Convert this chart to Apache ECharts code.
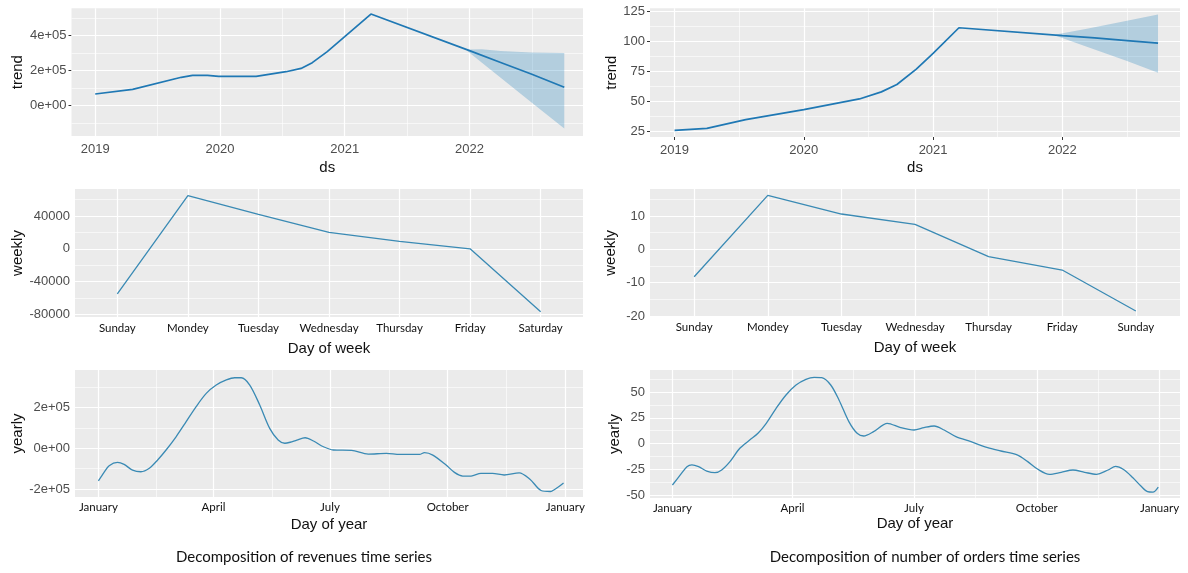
<!DOCTYPE html>
<html>
<head>
<meta charset="utf-8">
<script src="https://cdn.jsdelivr.net/npm/echarts@6/dist/echarts.min.js"></script>
<style>
html,body{margin:0;padding:0;background:#fff;}
#chart{width:1188px;height:573px;}
</style>
</head>
<body>
<div id="chart"></div>
<script>
// ---------- DATA ----------
// Revenues: trend
const trendYearsRev = [2019.0, 2019.3, 2019.69, 2019.78, 2019.9, 2019.99, 2020.29, 2020.53, 2020.65, 2020.74, 2020.86, 2021.0, 2021.21, 2022.0, 2022.25, 2022.5, 2022.76];
const trendRev = [65000, 92000, 161000, 172000, 172000, 166000, 166000, 193000, 212000, 245000, 308000, 394000, 524000, 314000, 246000, 178000, 104000];
const bandYearsRev = [2021.98, 2022.1, 2022.25, 2022.5, 2022.76];
const bandRevUpper = [320000, 322000, 312000, 303000, 300000];
const bandRevLower = [314000, 245000, 159000, 15000, -133000];

// Orders: trend
const trendYearsOrd = [2019.0, 2019.25, 2019.55, 2020.0, 2020.43, 2020.6, 2020.72, 2020.87, 2021.0, 2021.2, 2022.0, 2022.25, 2022.5, 2022.74];
const trendOrd = [25.5, 27.2, 34.5, 42.8, 51.7, 57.6, 63.7, 76.5, 89.6, 111, 104.5, 102.5, 100.3, 98.2];
const bandYearsOrd = [2021.95, 2022.2, 2022.5, 2022.74];
const bandOrdUpper = [105.3, 110.4, 116.8, 122];
const bandOrdLower = [104.3, 94.8, 83.3, 73.5];

// Weekly
const daysRev = ['Sunday', 'Mondey', 'Tuesday', 'Wednesday', 'Thursday', 'Friday', 'Saturday'];
const weeklyRev = [-55000, 65000, 42000, 20000, 9000, 0, -77000];
const daysOrd = ['Sunday', 'Mondey', 'Tuesday', 'Wednesday', 'Thursday', 'Friday', 'Sunday'];
const weeklyOrd = [-8.2, 16.2, 10.6, 7.5, -2.2, -6.2, -18.5];

// Yearly (x = day of year)
const yearDaysRev = [0, 4.4, 8.4, 14.9, 20.1, 26.7, 33.2, 39.8, 46.3, 52.9, 60.7, 68.6, 76.4, 84.3, 92.1, 100, 106.5, 111.7, 118.3, 126.1, 133.9, 140.5, 145.7, 149.9, 155.1, 161.6, 168.1, 175.9, 183.6, 197.9, 210.9, 225.1, 235.5, 251, 254.9, 261.4, 271.8, 278.3, 284.8, 291.3, 299, 308.1, 317.2, 328.9, 337.1, 346, 353.3, 359.2, 363.6];
const yearlyRev = [-160000, -118000, -85000, -69000, -79000, -107000, -115000, -98000, -57000, -8000, 57000, 131000, 205000, 270000, 311000, 336000, 347000, 347000, 311000, 213000, 98000, 41000, 25000, 30000, 41000, 52000, 36000, 8000, -8000, -10000, -28000, -25000, -30000, -30000, -21000, -33000, -82000, -118000, -136000, -136000, -123000, -123000, -131000, -120000, -150000, -207000, -212000, -191000, -170000];
const yearDaysOrd = [0, 5.9, 10.9, 14.6, 19.6, 25.7, 31.9, 36.9, 43.1, 50.5, 57.9, 64.1, 70.3, 77.7, 85.1, 92.6, 100, 106.2, 111.9, 118.6, 124.8, 132.2, 138.4, 143.3, 150.7, 161, 171, 181, 188.5, 196.1, 203.6, 212.4, 223.7, 236.2, 246.1, 258.7, 266.2, 273.8, 282.5, 291.3, 300.1, 308.8, 317.6, 326.4, 332, 338, 345, 351, 356, 360, 364];
const yearlyOrd = [-40, -30.3, -22.3, -20.6, -22.3, -26.5, -28.1, -25.5, -17.4, -4.5, 3.5, 10, 19.7, 34.2, 47.1, 56.8, 62.3, 64.2, 63.9, 56.8, 42.3, 21.3, 10, 7.4, 11.6, 19.7, 15.5, 13.2, 15.5, 17.1, 13.2, 6.8, 1.9, -3.9, -7.1, -11, -17.4, -24.8, -29.7, -27.7, -25.5, -27.7, -29.7, -25.5, -22, -25, -33, -41, -46.5, -47, -42];

// Tick values and labels
const yearTicks = [2019, 2020, 2021, 2022];
const yearTickLabels = ['2019', '2020', '2021', '2022'];
const yearMinor = [2019.5, 2020.5, 2021.5, 2022.5];
const dayIdxTicks = [0, 1, 2, 3, 4, 5, 6];
const monthTicks = [0, 90, 181, 273, 365];
const monthTickLabels = ['January', 'April', 'July', 'October', 'January'];
const monthMinor = [45, 135.5, 227, 319];

const yTrendRevTicks = [0, 200000, 400000];
const yTrendRevLabels = ['0e+00', '2e+05', '4e+05'];
const yTrendRevMinor = [-100000, 100000, 300000, 500000];
const yTrendOrdTicks = [25, 50, 75, 100, 125];
const yTrendOrdLabels = ['25', '50', '75', '100', '125'];
const yTrendOrdMinor = [37.5, 62.5, 87.5, 112.5];
const yWeekRevTicks = [-80000, -40000, 0, 40000];
const yWeekRevLabels = ['-80000', '-40000', '0', '40000'];
const yWeekRevMinor = [-60000, -20000, 20000, 60000];
const yWeekOrdTicks = [-20, -10, 0, 10];
const yWeekOrdLabels = ['-20', '-10', '0', '10'];
const yWeekOrdMinor = [-15, -5, 5, 15];
const yYearRevTicks = [-200000, 0, 200000];
const yYearRevLabels = ['-2e+05', '0e+00', '2e+05'];
const yYearRevMinor = [-100000, 100000, 300000];
const yYearOrdTicks = [-50, -25, 0, 25, 50];
const yYearOrdLabels = ['-50', '-25', '0', '25', '50'];
const yYearOrdMinor = [-37.5, -12.5, 12.5, 37.5, 62.5];

// ---------- BUILD ----------
const zip = (a, b) => a.map((v, i) => [v, b[i]]);
const labelFor = (vals, labs) => v => {
  for (let i = 0; i < vals.length; i++) if (Math.abs(vals[i] - v) < 1e-6) return labs[i];
  return '';
};
const NUMFONT = 'Liberation Sans, Arial, sans-serif';
const CATFONT = 'Lato, Open Sans, sans-serif';
const LINE_T = '#1f78b4';
const LINE_S = '#3a8ab4';

const panels = [
  { grid: { left: 71.5, top: 8.3, width: 511.5, height: 127.7 },
    x: { min: 2018.81, max: 2022.91, ticks: yearTicks, labels: yearTickLabels, minor: yearMinor, name: 'ds', gap: 24, cat: false, margin: 7 },
    y: { min: -176000, max: 557000, ticks: yTrendRevTicks, labels: yTrendRevLabels, minor: yTrendRevMinor, name: 'trend', gap: 46 },
    line: zip(trendYearsRev, trendRev), color: LINE_T, width: 1.7, smooth: false,
    band: { x: bandYearsRev, up: bandRevUpper, lo: bandRevLower } },
  { grid: { left: 650, top: 8.3, width: 530, height: 128.7 },
    x: { min: 2018.81, max: 2022.91, ticks: yearTicks, labels: yearTickLabels, minor: yearMinor, name: 'ds', gap: 23, cat: false, margin: 7 },
    y: { min: 20, max: 127.2, ticks: yTrendOrdTicks, labels: yTrendOrdLabels, minor: yTrendOrdMinor, name: 'trend', gap: 31 },
    line: zip(trendYearsOrd, trendOrd), color: LINE_T, width: 1.7, smooth: false,
    band: { x: bandYearsOrd, up: bandOrdUpper, lo: bandOrdLower } },
  { grid: { left: 75, top: 189, width: 508, height: 128 },
    x: { min: -0.6, max: 6.6, ticks: dayIdxTicks, labels: daysRev, minor: [], name: 'Day of week', gap: 24, cat: true, margin: 5 },
    y: { min: -83300, max: 73000, ticks: yWeekRevTicks, labels: yWeekRevLabels, minor: yWeekRevMinor, name: 'weekly', gap: 47 },
    line: zip(dayIdxTicks, weeklyRev), color: LINE_S, width: 1.3, smooth: false },
  { grid: { left: 650, top: 189, width: 530, height: 127.7 },
    x: { min: -0.6, max: 6.6, ticks: dayIdxTicks, labels: daysOrd, minor: [], name: 'Day of week', gap: 24, cat: true, margin: 5 },
    y: { min: -20.2, max: 18.1, ticks: yWeekOrdTicks, labels: yWeekOrdLabels, minor: yWeekOrdMinor, name: 'weekly', gap: 32 },
    line: zip(dayIdxTicks, weeklyOrd), color: LINE_S, width: 1.3, smooth: false },
  { grid: { left: 75, top: 370, width: 508, height: 127 },
    x: { min: -18.3, max: 378.8, ticks: monthTicks, labels: monthTickLabels, minor: monthMinor, name: 'Day of year', gap: 20, cat: true, margin: 4 },
    y: { min: -239000, max: 385000, ticks: yYearRevTicks, labels: yYearRevLabels, minor: yYearRevMinor, name: 'yearly', gap: 46 },
    line: zip(yearDaysRev, yearlyRev), color: LINE_S, width: 1.3, smooth: 0.3 },
  { grid: { left: 650, top: 370, width: 530, height: 128 },
    x: { min: -16.8, max: 380.3, ticks: monthTicks, labels: monthTickLabels, minor: monthMinor, name: 'Day of year', gap: 18, cat: true, margin: 4 },
    y: { min: -52.6, max: 71.3, ticks: yYearOrdTicks, labels: yYearOrdLabels, minor: yYearOrdMinor, name: 'yearly', gap: 28 },
    line: zip(yearDaysOrd, yearlyOrd), color: LINE_S, width: 1.3, smooth: 0.3 }
];

const grids = [], xAxes = [], yAxes = [], series = [];
panels.forEach((p, i) => {
  grids.push(Object.assign({ show: true, backgroundColor: '#ebebeb', borderWidth: 0, containLabel: false }, p.grid));
  xAxes.push({
    gridIndex: i, type: 'value', min: p.x.min, max: p.x.max,
    axisLine: { show: false },
    axisTick: { show: true, length: 3, lineStyle: { color: '#333', width: 1 }, customValues: p.x.ticks },
    axisLabel: { customValues: p.x.ticks, formatter: labelFor(p.x.ticks, p.x.labels), margin: p.x.margin,
      color: p.x.cat ? '#111' : '#4d4d4d', fontSize: p.x.cat ? 11.5 : 13, fontFamily: p.x.cat ? CATFONT : NUMFONT },
    splitLine: { show: false },
    name: p.x.name, nameLocation: 'middle', nameGap: p.x.gap,
    nameTextStyle: { fontSize: 15, color: '#111', fontFamily: NUMFONT }
  });
  yAxes.push({
    gridIndex: i, type: 'value', min: p.y.min, max: p.y.max,
    axisLine: { show: false },
    axisTick: { show: true, length: 3, lineStyle: { color: '#333', width: 1 }, customValues: p.y.ticks },
    axisLabel: { customValues: p.y.ticks, formatter: labelFor(p.y.ticks, p.y.labels), margin: 5,
      color: '#4d4d4d', fontSize: 13, fontFamily: NUMFONT },
    splitLine: { show: false },
    name: p.y.name, nameLocation: 'middle', nameGap: p.y.gap, nameRotate: 90,
    nameTextStyle: { fontSize: 15, color: '#111', fontFamily: NUMFONT }
  });
  const ml = [];
  p.x.ticks.forEach(v => ml.push({ xAxis: v, lineStyle: { width: 1.2 } }));
  p.x.minor.forEach(v => ml.push({ xAxis: v, lineStyle: { width: 0.6 } }));
  p.y.ticks.forEach(v => ml.push({ yAxis: v, lineStyle: { width: 1.2 } }));
  p.y.minor.forEach(v => ml.push({ yAxis: v, lineStyle: { width: 0.6 } }));
  series.push({
    type: 'line', xAxisIndex: i, yAxisIndex: i, data: [[p.x.min, p.y.min]], silent: true,
    showSymbol: false, lineStyle: { opacity: 0 }, z: 1,
    markLine: { silent: true, symbol: ['none', 'none'], label: { show: false }, z: 1, animation: false,
      lineStyle: { color: '#ffffff', type: 'solid', width: 1 }, emphasis: { disabled: true }, data: ml }
  });
  if (p.band) {
    const b = p.band;
    series.push({
      type: 'custom', xAxisIndex: i, yAxisIndex: i, silent: true, z: 2,
      data: b.x.map((x, k) => [x, b.lo[k], b.up[k]]),
      encode: { x: 0, y: [1, 2] },
      renderItem: function (params, api) {
        if (params.dataIndex !== 0) return null;
        const pts = [];
        for (let k = 0; k < b.x.length; k++) pts.push(api.coord([b.x[k], b.up[k]]));
        for (let k = b.x.length - 1; k >= 0; k--) pts.push(api.coord([b.x[k], b.lo[k]]));
        return { type: 'polygon', shape: { points: pts }, style: { fill: 'rgba(0,114,178,0.24)' } };
      }
    });
  }
  series.push({
    type: 'line', xAxisIndex: i, yAxisIndex: i, data: p.line, showSymbol: false, smooth: p.smooth,
    lineStyle: { color: p.color, width: p.width }, silent: true, z: 3
  });
});

const chart = echarts.init(document.getElementById('chart'), null, { renderer: 'canvas' });
chart.setOption({
  animation: false,
  backgroundColor: '#ffffff',
  grid: grids, xAxis: xAxes, yAxis: yAxes, series: series,
  graphic: [
    { type: 'text', x: 304, y: 557, style: { text: 'Decomposition of revenues time series', align: 'center', verticalAlign: 'middle', fontSize: 15, fontFamily: CATFONT, fill: '#111' } },
    { type: 'text', x: 925, y: 557, style: { text: 'Decomposition of number of orders time series', align: 'center', verticalAlign: 'middle', fontSize: 15, fontFamily: CATFONT, fill: '#111' } }
  ]
});
</script>
</body>
</html>
